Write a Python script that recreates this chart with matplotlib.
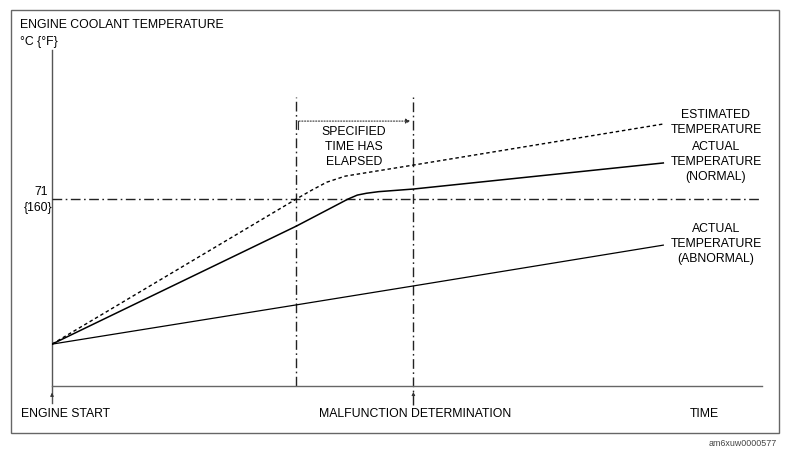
import numpy as np
import matplotlib
matplotlib.use('Agg')
import matplotlib.pyplot as plt
from matplotlib.patches import Rectangle

plt.rcParams['font.family'] = ['Liberation Sans', 'DejaVu Sans']

# Data (time in arbitrary units, temperature in deg C)
est_t = [0.0, 34.4, 36.6, 38.7, 41.3, 50.9, 86.1]
est_T = [15.9, 71.0, 74.4, 77.4, 79.7, 83.9, 99.5]

norm_t = [0.0, 34.4, 41.7, 43.0, 44.3, 46.0, 50.9, 86.1]
norm_T = [15.9, 60.7, 71.0, 72.5, 73.2, 73.8, 74.8, 84.7]

abn_t = [0.0, 34.4, 50.9, 86.1]
abn_T = [15.9, 30.8, 38.0, 53.5]

threshold = 71.0          # 71 {160}
t_judge_start = 34.4      # specified time starts
t_judge = 50.9            # malfunction determination

W, H = 790, 453
def fx(x): return x / W
def fy(y): return 1 - y / H

fig = plt.figure(figsize=(7.9, 4.53), dpi=100)
ax = fig.add_axes([fx(52), fy(386), fx(762) - fx(52), fy(50) - fy(386)])
ax.set_xlim(0, 100)
ax.set_ylim(0, 127.6)
for s in ['top', 'right', 'left']:
    ax.spines[s].set_visible(False)
ax.spines['bottom'].set_color('#666666')
ax.spines['bottom'].set_linewidth(1.0)
ax.set_xticks([])
ax.set_yticks([])
ax.patch.set_alpha(0)

dashdot = (0, (7, 2.5, 1.2, 2.5))

# vertical y axis line (extends a bit below time axis)
ax.plot([0, 0], [-6.5, 127.6], color='#555555', lw=1.0, clip_on=False)
ax.annotate('', xy=(0, -1.5), xytext=(0, -5), xycoords='data',
            arrowprops=dict(arrowstyle='-|>', color='#333333', lw=0.6,
                            mutation_scale=5), annotation_clip=False)

# threshold line
ax.plot([0, 100], [threshold, threshold], color='#222222', lw=1.0, linestyle=dashdot)

# vertical markers
ax.plot([t_judge_start, t_judge_start], [0, 109.7], color='#222222', lw=1.0,
        linestyle=dashdot, clip_on=False)
ax.plot([t_judge, t_judge], [-7.2, 109.7], color='#222222', lw=1.0,
        linestyle=dashdot, clip_on=False)
ax.annotate('', xy=(t_judge, -1.2), xytext=(t_judge, -5), xycoords='data',
            arrowprops=dict(arrowstyle='-|>', color='#333333', lw=0.6,
                            mutation_scale=5), annotation_clip=False)

# specified time bracket
ax.annotate('', xy=(t_judge, 100.6), xytext=(t_judge_start, 100.6),
            arrowprops=dict(arrowstyle='-|>', color='#333333', lw=0.8,
                            linestyle=(0, (1, 1.5)), mutation_scale=7))
ax.plot([t_judge_start + 0.2, t_judge_start + 0.2], [100.6, 97.5], color='#333333', lw=0.8)

# curves
ax.plot(est_t, est_T, color='black', lw=1.0, linestyle=(0, (2.5, 2)))
ax.plot(norm_t, norm_T, color='black', lw=1.1)
ax.plot(abn_t, abn_T, color='black', lw=0.9)

fs = 8.8
fig.text(fx(20), fy(25), 'ENGINE COOLANT TEMPERATURE', fontsize=fs, va='center', ha='left')
fig.text(fx(20), fy(42), '°C {°F}', fontsize=fs, va='center', ha='left')
fig.text(fx(41), fy(192), '71', fontsize=fs, va='center', ha='center')
fig.text(fx(38), fy(208), '{160}', fontsize=fs, va='center', ha='center')

fig.text(fx(354), fy(147), 'SPECIFIED\nTIME HAS\nELAPSED', fontsize=fs, va='center',
         ha='center', linespacing=1.35, multialignment='center')

fig.text(fx(716), fy(122.5), 'ESTIMATED\nTEMPERATURE', fontsize=fs, va='center',
         ha='center', linespacing=1.3, multialignment='center')
fig.text(fx(716), fy(162), 'ACTUAL\nTEMPERATURE\n(NORMAL)', fontsize=fs, va='center',
         ha='center', linespacing=1.3, multialignment='center')
fig.text(fx(716), fy(244), 'ACTUAL\nTEMPERATURE\n(ABNORMAL)', fontsize=fs, va='center',
         ha='center', linespacing=1.3, multialignment='center')

fig.text(fx(21), fy(414), 'ENGINE START', fontsize=fs, va='center', ha='left')
fig.text(fx(319), fy(414), 'MALFUNCTION DETERMINATION', fontsize=fs, va='center', ha='left')
fig.text(fx(690), fy(414), 'TIME', fontsize=fs, va='center', ha='left')

fig.text(fx(777), fy(443), 'am6xuw0000577', fontsize=6.4, va='center', ha='right',
         color='#444444')

# outer frame
fig.patches.append(Rectangle((fx(11), fy(433)), fx(779) - fx(11), fy(10) - fy(433),
                             transform=fig.transFigure, fill=False,
                             edgecolor='#666666', lw=1.0))

fig.savefig('out.png', dpi=100)
